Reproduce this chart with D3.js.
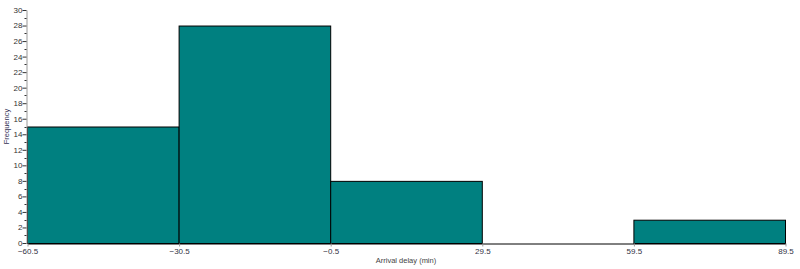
<!DOCTYPE html>
<html><head><meta charset="utf-8">
<script src="https://cdn.jsdelivr.net/npm/d3@7"></script>
<style>body{margin:0;background:#fff}svg{display:block}text{font-family:"Liberation Sans",Arial,sans-serif}</style>
</head><body><svg id="c" width="800" height="269"></svg>
<script>
const binEdges = [-60.5, -30.5, -0.5, 29.5, 59.5, 89.5];
const binCounts = [15, 28, 8, 0, 3];
const yTicks = [0,2,4,6,8,10,12,14,16,18,20,22,24,26,28,30];
const xLabel = "Arrival delay (min)";
const yLabel = "Frequency";

const svg = d3.select("#c");
const m = {l:27, r:15, t:10, b:26};
const W = 800, H = 269;
const x = d3.scaleLinear().domain([binEdges[0], binEdges[binEdges.length-1]]).range([m.l, W-m.r]);
const y = d3.scaleLinear().domain([0, 30]).range([H-m.b, m.t]);

const bins = binCounts.map((c,i)=>({x0:binEdges[i], x1:binEdges[i+1], c}));
svg.append("g").selectAll("rect").data(bins.filter(d=>d.c>0)).join("rect")
  .attr("x", d=>x(d.x0)+0.5).attr("width", d=>x(d.x1)-x(d.x0))
  .attr("y", d=>y(d.c)+0.5).attr("height", d=>y(0)-y(d.c))
  .attr("fill","#008080").attr("stroke","#000").attr("stroke-width",1);

// y axis
const ya = svg.append("g").attr("transform",`translate(${m.l-0.5},0)`)
  .call(d3.axisLeft(y).tickValues(yTicks).tickSize(4).tickSizeOuter(0));
ya.select(".domain").attr("stroke","#999");
ya.selectAll(".tick line").attr("stroke","#333");
ya.selectAll(".tick text").attr("font-size","8px").attr("fill","#333").attr("x",-4).attr("dy","0.3em").attr("font-family","Liberation Sans, Arial, sans-serif");
// minor ticks
svg.append("g").selectAll("line").data(d3.range(1,30,2)).join("line")
  .attr("x1",m.l-2.5).attr("x2",m.l-0.5).attr("y1",d=>Math.round(y(d))+0.5).attr("y2",d=>Math.round(y(d))+0.5)
  .attr("stroke","#333");

// x axis
const xa = svg.append("g").attr("transform",`translate(0.5,${y(0)+0.5})`)
  .call(d3.axisBottom(x).tickValues(binEdges).tickFormat(d=>d3.format(".1f")(d)).tickSize(3).tickSizeOuter(0));
xa.select(".domain").attr("stroke","#000");
xa.selectAll(".tick line").attr("stroke","#999");
xa.selectAll(".tick text").attr("font-size","8px").attr("fill","#334").attr("y",5).attr("font-family","Liberation Sans, Arial, sans-serif");

svg.append("text").attr("x",(x(-60.5)+x(89.5))/2).attr("y",263).attr("text-anchor","middle")
  .attr("font-size","7.5px").attr("fill","#444").text(xLabel);
svg.append("text").attr("transform",`translate(9,${(y(0)+y(30))/2}) rotate(-90)`).attr("text-anchor","middle")
  .attr("font-size","7.5px").attr("fill","#335").text(yLabel);
</script></body></html>
